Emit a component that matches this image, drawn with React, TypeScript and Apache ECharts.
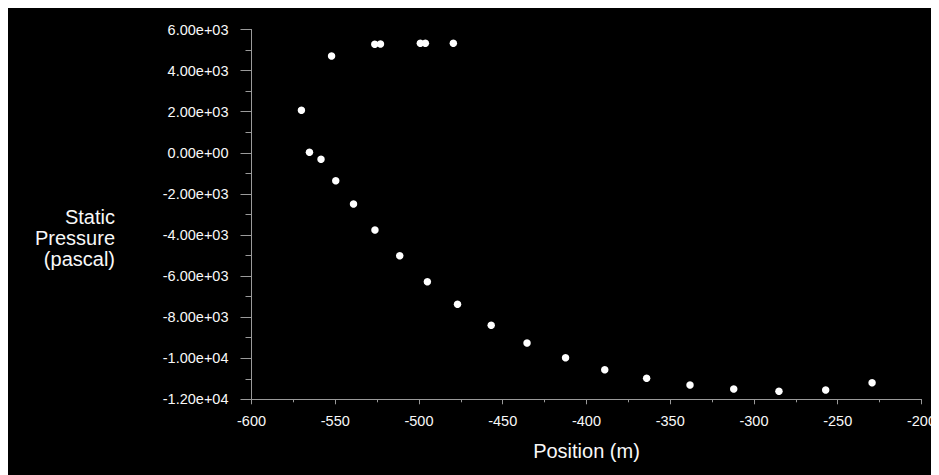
import React, { useEffect, useRef } from "react";
import * as echarts from "echarts";

const positions = [
  -570.2, -565.4, -558.5, -552.2, -549.7, -539.1, -526.4, -523.0, -526.3, -511.5,
  -499.2, -496.2, -495.0, -479.5, -477.0, -456.9, -435.5, -412.5, -389.1, -364.1,
  -338.2, -312.1, -285.1, -257.2, -229.5,
];
const pressures = [
  2067, 23, -318, 4710, -1360, -2494, 5280, 5294, -3759, -5010,
  5328, 5328, -6276, 5328, -7376, -8398, -9260, -9975, -10559, -10978,
  -11304, -11499, -11611, -11547, -11192,
];
const yTitle = ["Static", "Pressure", "(pascal)"];
const xTitle = "Position (m)";

function fmtExp(v: number): string {
  if (v === 0) return "0.00e+00";
  const e = Math.floor(Math.log10(Math.abs(v)));
  const m = v / Math.pow(10, e);
  const es = (e >= 0 ? "+" : "-") + String(Math.abs(e)).padStart(2, "0");
  return m.toFixed(2) + "e" + es;
}

export default function App() {
  const ref = useRef<HTMLDivElement>(null);
  useEffect(() => {
    if (!ref.current) return;
    const chart = echarts.init(ref.current, null, { renderer: "svg" });
    const font = "'Liberation Sans', Arial, sans-serif";
    const axisColor = "#9a9a9a";
    const textColor = "#f8f8f8";
    chart.setOption({
      animation: false,
      backgroundColor: "#000000",
      grid: { left: 243.5, right: 9, top: 21.5, bottom: 75.7, containLabel: false },
      xAxis: {
        type: "value",
        min: -600,
        max: -200,
        interval: 50,
        name: xTitle,
        nameLocation: "middle",
        nameGap: 42,
        nameTextStyle: { color: textColor, fontSize: 20, fontFamily: font },
        axisLine: { show: true, onZero: false, lineStyle: { color: axisColor, width: 1 } },
        axisTick: { show: true, inside: false, length: 5, lineStyle: { color: axisColor } },
        minorTick: { show: true, splitNumber: 2, length: 3, lineStyle: { color: axisColor } },
        splitLine: { show: false },
        axisLabel: { color: textColor, fontSize: 14.5, fontFamily: font, margin: 14 },
      },
      yAxis: {
        type: "value",
        min: -12000,
        max: 6000,
        interval: 2000,
        axisLine: { show: true, onZero: false, lineStyle: { color: axisColor, width: 1 } },
        axisTick: { show: true, inside: false, length: 11, lineStyle: { color: axisColor } },
        minorTick: { show: true, splitNumber: 2, length: 6, lineStyle: { color: axisColor } },
        splitLine: { show: false },
        axisLabel: {
          color: textColor,
          fontSize: 14.5,
          fontFamily: font,
          margin: 23,
          formatter: (v: number) => fmtExp(v),
        },
      },
      graphic: [
        {
          type: "text",
          x: 107,
          y: 229.5,
          style: {
            text: yTitle.join("\n"),
            fill: textColor,
            font: `20px ${font}`,
            align: "right",
            verticalAlign: "middle",
            lineHeight: 21,
          },
        },
      ],
      series: [
        {
          type: "scatter",
          data: positions.map((p, i) => [p, pressures[i]]),
          symbol: "circle",
          symbolSize: 7.5,
          itemStyle: { color: "#ffffff", opacity: 1 },
        },
      ],
    });
    return () => chart.dispose();
  }, []);
  return <div ref={ref} style={{ width: 931, height: 467 }} />;
}
